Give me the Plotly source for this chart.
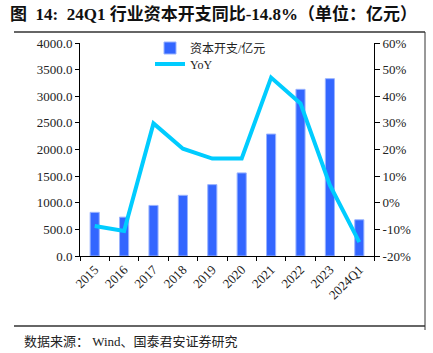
import plotly.graph_objects as go

categories = ["2015", "2016", "2017", "2018", "2019", "2020", "2021", "2022", "2023", "2024Q1"]
capex = [820, 730, 950, 1140, 1340, 1560, 2290, 3130, 3330, 680]
yoy = [-0.087, -0.106, 0.298, 0.203, 0.166, 0.166, 0.47, 0.373, 0.066, -0.148]
left_ticks = [0, 500, 1000, 1500, 2000, 2500, 3000, 3500, 4000]
right_ticks = [-0.2, -0.1, 0, 0.1, 0.2, 0.3, 0.4, 0.5, 0.6]

W, H = 433, 353
L, R, T, B = 80, 374, 43, 256

def px(x):
    return (x - L) / (R - L)

def py(y):
    return (B - y) / (B - T)

serif = "Liberation Serif, Noto Sans CJK SC, serif"

fig = go.Figure()
fig.add_trace(go.Bar(
    x=categories, y=capex, name="资本开支/亿元",
    marker=dict(color="#3366FF", line=dict(color="#99B3FF", width=1)),
    yaxis="y", legend="legend",
))
fig.add_trace(go.Scatter(
    x=categories, y=yoy, name="YoY", mode="lines",
    line=dict(color="#00CCFF", width=4),
    yaxis="y2", legend="legend2",
))

legfont = dict(family=serif, size=12, color="#222")
fig.update_layout(
    width=W, height=H,
    margin=dict(l=L, r=W - R, t=T, b=H - B),
    paper_bgcolor="white", plot_bgcolor="white",
    bargap=0.69,
    showlegend=True,
    legend=dict(x=px(150), y=py(48), xanchor="left", yanchor="middle",
                bgcolor="rgba(0,0,0,0)", font=legfont, itemwidth=30),
    legend2=dict(x=px(150), y=py(64), xanchor="left", yanchor="middle",
                 bgcolor="rgba(0,0,0,0)", font=legfont, itemwidth=30),
    xaxis=dict(
        type="category", showline=True, linecolor="black", linewidth=1,
        ticks="outside", ticklen=4, tickcolor="black", tickson="boundaries",
        tickangle=-45, tickfont=dict(family=serif, size=13, color="#222"),
        showgrid=False,
    ),
    yaxis=dict(
        range=[0, 4000], tickvals=left_ticks,
        ticktext=[f"{v:.1f}" for v in left_ticks],
        showline=True, linecolor="black", linewidth=1,
        ticks="outside", ticklen=4, tickcolor="black",
        tickfont=dict(family=serif, size=13, color="#222"),
        showgrid=False, zeroline=False,
    ),
    yaxis2=dict(
        range=[-0.2, 0.6], tickvals=right_ticks,
        ticktext=[f"{round(v*100)}%" for v in right_ticks],
        overlaying="y", side="right",
        showline=True, linecolor="black", linewidth=1,
        ticks="outside", ticklen=5, tickcolor="black",
        tickfont=dict(family=serif, size=13, color="#222"),
        showgrid=False, zeroline=False,
    ),
)

# Title and frame
fig.add_annotation(
    text="<b>图  14:  24Q1 行业资本开支同比-14.8%（单位：亿元）</b>",
    x=px(8), y=py(14), xref="paper", yref="paper", xanchor="left", yanchor="middle",
    showarrow=False, font=dict(family=serif, size=17, color="#111"),
)
fig.add_annotation(
    text="数据来源： Wind、国泰君安证券研究",
    x=px(22), y=py(341), xref="paper", yref="paper", xanchor="left", yanchor="middle",
    showarrow=False, font=dict(family=serif, size=13, color="#222"),
)
fig.add_shape(type="line", xref="paper", yref="paper",
              x0=px(14), x1=px(425), y0=py(32), y1=py(32),
              line=dict(color="#333", width=1.5))
fig.add_shape(type="line", xref="paper", yref="paper",
              x0=px(14), x1=px(425), y0=py(326), y1=py(326),
              line=dict(color="#333", width=1.5))
fig.add_shape(type="line", xref="paper", yref="paper",
              x0=px(425), x1=px(425), y0=py(32), y1=py(330),
              line=dict(color="#333", width=1))

fig.write_html("out.html")
